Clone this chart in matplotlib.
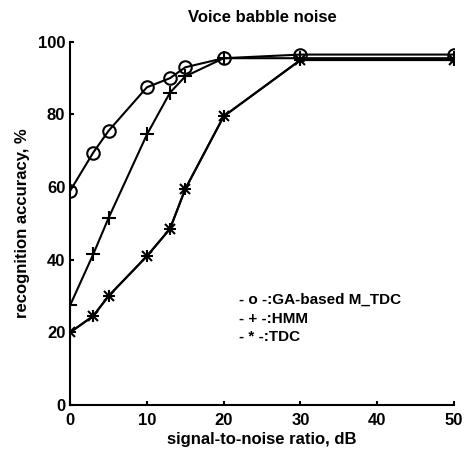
import numpy as np
import matplotlib.pyplot as plt

# SNR levels (dB) and recognition accuracy (%) per method
snr = [0, 3, 5, 10, 13, 15, 20, 30, 50]
ga_mtdc = [59, 69.5, 75.5, 87.5, 90, 93, 95.5, 96.5, 96.5]
hmm = [27.5, 41.5, 51.5, 74.5, 86, 90.5, 95.5, 95.5, 95.5]
tdc = [20, 24.5, 30, 41, 48.5, 59.5, 79.5, 95, 95]
legend_lines = ['- o -:GA-based M_TDC', '- + -:HMM', '- * -:TDC']

plt.rcParams['font.family'] = ['Liberation Sans', 'DejaVu Sans']
plt.rcParams['font.weight'] = 'bold'

fig = plt.figure(figsize=(4.68, 4.55), dpi=100)
ax = fig.add_axes([0.15, 0.11, 0.82, 0.798])

ax.plot(snr, ga_mtdc, 'k-', marker='o', ms=9, mfc='none', mew=1.5, lw=1.5)
ax.plot(snr, hmm, 'k-', marker='+', ms=10, mew=1.5, lw=1.5)
ax.plot(snr, tdc, 'k-', marker='x', ms=7, mew=1.5, lw=1.5)
ax.plot(snr, tdc, 'none', marker='+', ms=9, mew=1.5, color='k')

ax.set_xlim(0, 50)
ax.set_ylim(0, 100)
ax.set_xticks([0, 10, 20, 30, 40, 50])
ax.set_yticks([0, 20, 40, 60, 80, 100])
ax.tick_params(direction='in', length=3, width=1.5, labelsize=12)
ax.tick_params(axis='x', pad=6)
for s in ['top', 'right']:
    ax.spines[s].set_visible(False)
for s in ['left', 'bottom']:
    ax.spines[s].set_linewidth(1.5)

ax.set_title('Voice babble noise', fontsize=12, fontweight='bold', pad=14)
ax.set_xlabel('signal-to-noise ratio, dB', fontsize=12, fontweight='bold', labelpad=3)
ax.set_ylabel('recognition accuracy, %', fontsize=12, fontweight='bold', labelpad=6)

for i, t in enumerate(legend_lines):
    ax.text(0.44, 0.29 - i * 0.052, t, transform=ax.transAxes, fontsize=11,
            fontweight='bold', va='center')

fig.savefig('out.png', dpi=100)
